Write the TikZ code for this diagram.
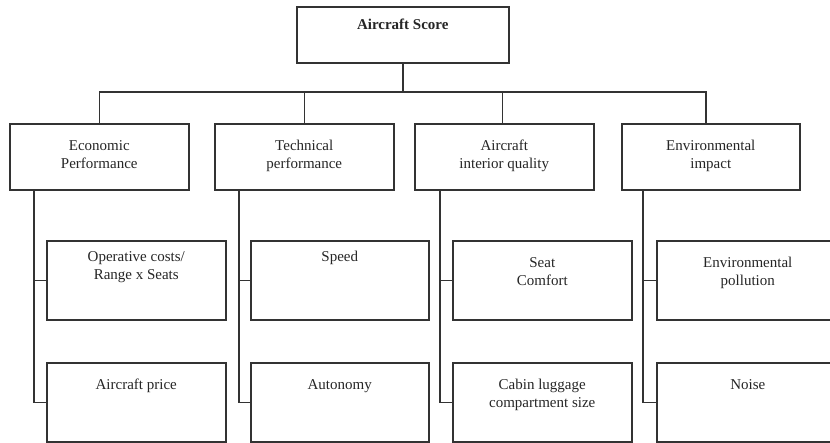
\documentclass[tikz,border=0pt]{standalone}
\usepackage{fontspec}
\setmainfont{Liberation Serif}
\definecolor{ln}{HTML}{333333}
\definecolor{tx}{HTML}{262626}
\newcommand\bxt[4]{\begin{minipage}[c][#2pt][t]{#1pt}\centering\vspace*{#3pt}\strut #4\end{minipage}}
\tikzset{
  box/.style={draw=ln, line width=1.5pt, inner sep=0pt, anchor=north west, text=tx,
              font=\fontsize{15}{18}\selectfont},
  conn/.style={draw=ln, line width=1.5pt}
}
\begin{document}
\begin{tikzpicture}[x=1pt,y=-1pt]
\clip (0,0) rectangle (830,442);
\fill[white] (0,0) rectangle (830,442);
% root
\node[box] (root) at (296,6) {\bxt{212}{56}{10.4}{\textbf{Aircraft Score}}};
% categories
\node[box] (eco)  at (9,123)   {\bxt{179}{66}{14.4}{Economic\\Performance}};
\node[box] (tech) at (214,123) {\bxt{179}{66}{14.4}{Technical\\performance}};
\node[box] (air)  at (414,123) {\bxt{179}{66}{14.4}{Aircraft\\interior quality}};
\node[box] (env)  at (621,123) {\bxt{178}{66}{14.4}{Environmental\\impact}};
% sub criteria, top row
\node[box] (op)    at (46,240)  {\bxt{179}{79}{8.4}{Operative costs/\\Range x Seats}};
\node[box] (speed) at (250,240) {\bxt{178}{79}{8.4}{Speed}};
\node[box] (seat)  at (452,240) {\bxt{179}{79}{14}{Seat\\Comfort}};
\node[box] (pol)   at (656,240) {\bxt{182}{79}{14}{Environmental\\pollution}};
% sub criteria, bottom row
\node[box] (price) at (46,362)  {\bxt{179}{79}{14.4}{Aircraft price}};
\node[box] (auto)  at (250,362) {\bxt{178}{79}{14.4}{Autonomy}};
\node[box] (cabin) at (452,362) {\bxt{179}{79}{14.4}{Cabin luggage\\compartment size}};
\node[box] (noise) at (656,362) {\bxt{182}{79}{14.4}{Noise}};
% bus
\coordinate (bus) at (0,92);
\draw[conn] (root.south) -- (root.south |- bus);
\draw[conn] (eco.north) -- (eco.north |- bus) -- ([xshift=-5pt]env.north |- bus) -- ([xshift=-5pt]env.north);
\draw[conn] (tech.north) -- (tech.north |- bus);
\draw[conn] ([xshift=-2pt]air.north) -- ([xshift=-2pt]air.north |- bus);
% branches
\draw[conn] ([xshift=25pt]eco.south west) |- (op.west);
\draw[conn] ([xshift=25pt]eco.south west) |- (price.west);
\draw[conn] ([xshift=25pt]tech.south west) |- (speed.west);
\draw[conn] ([xshift=25pt]tech.south west) |- (auto.west);
\draw[conn] ([xshift=26pt]air.south west) |- (seat.west);
\draw[conn] ([xshift=26pt]air.south west) |- (cabin.west);
\draw[conn] ([xshift=22pt]env.south west) |- (pol.west);
\draw[conn] ([xshift=22pt]env.south west) |- (noise.west);
\end{tikzpicture}
\end{document}
